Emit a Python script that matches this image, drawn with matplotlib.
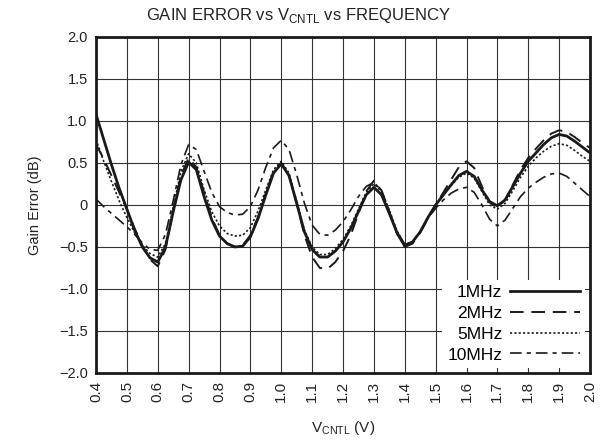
#!/usr/bin/env python
# Gain error vs V_CNTL vs frequency, four frequency curves

import numpy as np
import matplotlib
matplotlib.use('Agg')
from matplotlib import pyplot as plt
from matplotlib.ticker import FuncFormatter

plt.rcParams['font.family'] = ['Liberation Sans', 'DejaVu Sans']
plt.rcParams['mathtext.fontset'] = 'custom'
plt.rcParams['mathtext.rm'] = 'Liberation Sans'

# control voltage sample points (V)
vcntl = np.round(np.arange(0.4, 2.0001, 0.025), 3)

# gain error (dB)
gain_1mhz = [1.08, 0.78, 0.48, 0.20, -0.05, -0.30, -0.50, -0.63, -0.68, -0.50,
             -0.08, 0.30, 0.51, 0.42, 0.10, -0.18, -0.37, -0.46, -0.50, -0.49,
             -0.38, -0.16, 0.12, 0.38, 0.49, 0.35, 0.02, -0.32, -0.53, -0.62,
             -0.62, -0.55, -0.44, -0.28, -0.08, 0.12, 0.21, 0.12, -0.10, -0.33,
             -0.48, -0.44, -0.32, -0.15, 0.00, 0.12, 0.24, 0.35, 0.40, 0.34,
             0.18, 0.04, -0.01, 0.06, 0.22, 0.38, 0.52, 0.62, 0.72, 0.80,
             0.84, 0.82, 0.76, 0.69, 0.62]
gain_2mhz = [0.72, 0.55, 0.35, 0.15, -0.05, -0.28, -0.48, -0.65, -0.73, -0.53,
             -0.06, 0.35, 0.56, 0.45, 0.15, -0.15, -0.36, -0.46, -0.50, -0.48,
             -0.36, -0.14, 0.14, 0.40, 0.50, 0.36, 0.02, -0.36, -0.62, -0.75,
             -0.76, -0.68, -0.55, -0.36, -0.10, 0.16, 0.29, 0.17, -0.08, -0.34,
             -0.50, -0.46, -0.33, -0.16, 0.00, 0.15, 0.30, 0.45, 0.52, 0.44,
             0.22, 0.03, -0.03, 0.06, 0.24, 0.42, 0.56, 0.67, 0.77, 0.85,
             0.89, 0.87, 0.81, 0.74, 0.68]
gain_5mhz = [0.78, 0.52, 0.28, 0.05, -0.15, -0.33, -0.48, -0.58, -0.62, -0.46,
             -0.03, 0.40, 0.61, 0.50, 0.18, -0.08, -0.25, -0.34, -0.37, -0.36,
             -0.27, -0.07, 0.18, 0.42, 0.52, 0.38, 0.04, -0.30, -0.50, -0.59,
             -0.59, -0.52, -0.41, -0.25, -0.05, 0.15, 0.25, 0.16, -0.06, -0.31,
             -0.47, -0.44, -0.32, -0.15, 0.00, 0.12, 0.23, 0.33, 0.38, 0.32,
             0.16, 0.00, -0.05, 0.02, 0.17, 0.33, 0.46, 0.56, 0.64, 0.70,
             0.73, 0.71, 0.65, 0.58, 0.52]
gain_10mhz = [0.07, -0.02, -0.10, -0.18, -0.26, -0.35, -0.45, -0.53, -0.54, -0.35,
              0.05, 0.48, 0.72, 0.66, 0.40, 0.15, -0.02, -0.09, -0.12, -0.11,
              -0.02, 0.18, 0.45, 0.68, 0.77, 0.66, 0.36, 0.02, -0.24, -0.35,
              -0.36, -0.30, -0.20, -0.06, 0.10, 0.22, 0.27, 0.17, -0.08, -0.35,
              -0.50, -0.45, -0.32, -0.16, -0.04, 0.06, 0.14, 0.19, 0.21, 0.15,
              0.00, -0.17, -0.25, -0.18, -0.04, 0.10, 0.20, 0.27, 0.33, 0.37,
              0.38, 0.34, 0.26, 0.18, 0.10]

labels = ['1MHz', '2MHz', '5MHz', '10MHz']
x_ticks = [0.4, 0.5, 0.6, 0.7, 0.8, 0.9, 1.0, 1.1, 1.2, 1.3, 1.4, 1.5, 1.6,
           1.7, 1.8, 1.9, 2.0]
y_ticks = [-2.0, -1.5, -1.0, -0.5, 0.0, 0.5, 1.0, 1.5, 2.0]


def y_fmt(v, pos):
    if abs(v) < 1e-9:
        return '0'
    return ('%.1f' % v).replace('-', '\u2212')


fig = plt.figure(figsize=(6.05, 4.44), dpi=100)
ax = fig.add_axes([0.1587, 0.16, 0.8165, 0.7567])

ink = '#1a1a1a'
ax.plot(vcntl, gain_1mhz, color=ink, lw=2.0, label=labels[0], zorder=5)
ax.plot(vcntl, gain_2mhz, color=ink, lw=1.4, dashes=(7, 4), label=labels[1], zorder=4)
ax.plot(vcntl, gain_5mhz, color=ink, lw=1.2, dashes=(1.3, 1.3), label=labels[2], zorder=4)
ax.plot(vcntl, gain_10mhz, color=ink, lw=1.2, dashes=(7, 3, 2.5, 3), label=labels[3], zorder=4)

ax.set_xlim(0.4, 2.0)
ax.set_ylim(-2.0, 2.0)
ax.set_xticks(x_ticks)
ax.set_yticks(y_ticks)
ax.xaxis.set_major_formatter(FuncFormatter(lambda v, p: '%.1f' % v))
ax.yaxis.set_major_formatter(FuncFormatter(y_fmt))
ax.tick_params(axis='both', length=0, colors='#222222')
ax.tick_params(axis='y', labelsize=10.5, pad=6)
ax.tick_params(axis='x', labelrotation=90, labelsize=11, pad=6)
ax.grid(True, color='#333333', lw=0.8)
ax.set_axisbelow(True)
for sp in ax.spines.values():
    sp.set_linewidth(2.0)
    sp.set_color('#1a1a1a')

# title is centred on the figure, not on the axes
fig.text(0.493, 0.966, 'GAIN ERROR vs V$_{\\mathrm{CNTL}}$ vs FREQUENCY',
         fontsize=12, color='#222222', ha='center', va='center')
ax.set_ylabel('Gain Error (dB)', fontsize=10.5, color='#222222', labelpad=12)
ax.set_xlabel('V$_{\\mathrm{CNTL}}$ (V)', fontsize=11, color='#222222', labelpad=12)

leg = ax.legend(loc='lower right', markerfirst=False, fontsize=12.5,
                handlelength=4.0, handletextpad=0.45, labelspacing=0.33,
                borderpad=0.3, borderaxespad=0.3, frameon=True, fancybox=False,
                framealpha=1.0, edgecolor='none', facecolor='white')
leg.set_zorder(10)

fig.savefig('out.png', dpi=100)
